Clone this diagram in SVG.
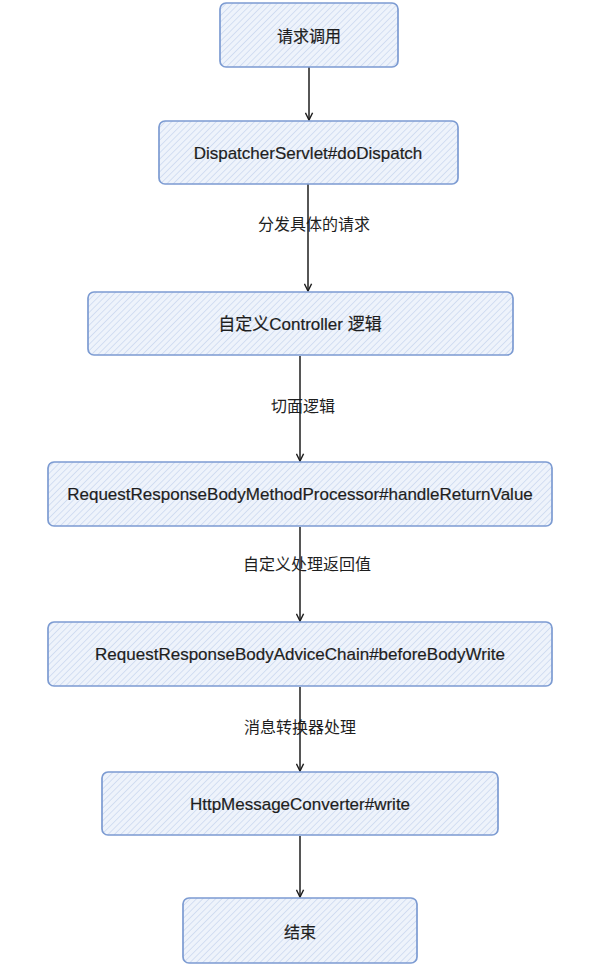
<svg xmlns="http://www.w3.org/2000/svg" width="612" height="972" viewBox="0 0 612 972">
<defs>
<pattern id="hatch" patternUnits="userSpaceOnUse" width="4.5" height="4.5" patternTransform="rotate(45)">
<rect width="4.5" height="4.5" fill="#eef3fb"/>
<line x1="0" y1="0" x2="0" y2="4.5" stroke="#c5d4ed" stroke-width="1.3"/>
</pattern>
<marker id="arr" viewBox="0 0 10 10" refX="9" refY="5" markerWidth="9" markerHeight="9" markerUnits="userSpaceOnUse" orient="auto">
<path d="M1,1 L9,5 L1,9" fill="none" stroke="#1e1e1e" stroke-width="1.6"/>
</marker>
<style>
.box{fill:url(#hatch);stroke:#7c9bd2;stroke-width:1.7}
.t{font-family:"Liberation Sans","Noto Sans CJK SC",sans-serif;font-size:17px;fill:#1e1e1e;text-anchor:middle;dominant-baseline:central;stroke:#1e1e1e;stroke-width:0.2}
.lbl{font-family:"Noto Sans CJK SC","Liberation Sans",sans-serif;font-size:16px;fill:#1e1e1e;text-anchor:middle;dominant-baseline:central}
.c{stroke:#1e1e1e;stroke-width:1.5;fill:none;marker-end:url(#arr)}
</style>
</defs>
<rect width="612" height="972" fill="#ffffff"/>
<g id="connectors">
<line class="c" x1="309" y1="67" x2="309" y2="120"/>
<line class="c" x1="308" y1="184" x2="308" y2="291"/>
<line class="c" x1="300" y1="356" x2="300" y2="461"/>
<line class="c" x1="300" y1="527" x2="300" y2="621"/>
<line class="c" x1="300" y1="687" x2="300" y2="771"/>
<line class="c" x1="300" y1="836" x2="300" y2="897"/>
<text class="lbl" x="314" y="223">分发具体的请求</text>
<text class="lbl" x="303" y="405">切面逻辑</text>
<text class="lbl" x="307" y="563">自定义处理返回值</text>
<text class="lbl" x="300" y="726">消息转换器处理</text>
</g>
<g id="n1"><rect class="box" x="220" y="3" width="178" height="64" rx="6"/><text class="t" x="309" y="35" style="font-family:'Noto Sans CJK SC',sans-serif;font-size:16px">请求调用</text></g>
<g id="n2"><rect class="box" x="159" y="121" width="299" height="63" rx="6"/><text class="t" x="308" y="153">DispatcherServlet#doDispatch</text></g>
<g id="n3"><rect class="box" x="88" y="292" width="425" height="63" rx="6"/><text class="t" x="300" y="324">自定义Controller 逻辑</text></g>
<g id="n4"><rect class="box" x="48" y="462" width="504" height="64" rx="6"/><text class="t" x="300" y="494">RequestResponseBodyMethodProcessor#handleReturnValue</text></g>
<g id="n5"><rect class="box" x="48" y="622" width="504" height="64" rx="6"/><text class="t" x="300" y="654">RequestResponseBodyAdviceChain#beforeBodyWrite</text></g>
<g id="n6"><rect class="box" x="102" y="772" width="396" height="63" rx="6"/><text class="t" x="300" y="804">HttpMessageConverter#write</text></g>
<g id="n7"><rect class="box" x="183" y="898" width="234" height="65" rx="6"/><text class="t" x="300" y="931" style="font-family:'Noto Sans CJK SC',sans-serif;font-size:16px">结束</text></g>
</svg>
